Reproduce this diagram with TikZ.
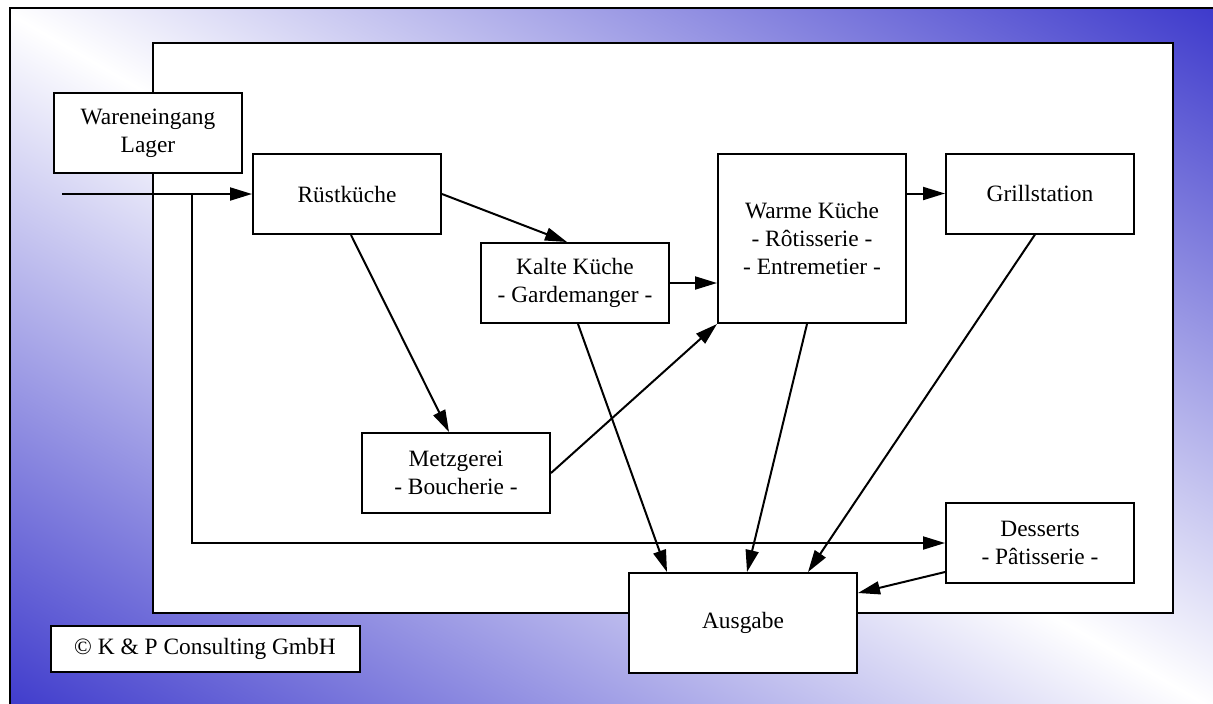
\documentclass[tikz,border=0pt]{standalone}
\usepackage{fontspec}
\setmainfont{Liberation Serif}
\usetikzlibrary{arrows.meta,shadings}

\definecolor{kpblue}{RGB}{48,44,200}
\pgfdeclareverticalshading{kpfade}{100bp}{color(0bp)=(kpblue); color(14bp)=(kpblue);
  color(50bp)=(white); color(86bp)=(kpblue); color(100bp)=(kpblue)}

\tikzset{stn/.style={draw=black, fill=white, line width=1pt, minimum width=94pt,
                     minimum height=40pt, align=center, inner sep=0pt,
                     font=\fontsize{11.7}{14}\selectfont}}

\begin{document}
\begin{tikzpicture}[x=0.5pt, y=-0.5pt, line width=1pt, >={Triangle[length=11pt,width=6.5pt]}]
\useasboundingbox (0,0) rectangle (1213,703);
\clip (0,0) rectangle (1213,703);

% background
\shade[shading=kpfade, shading angle=-30] (10,8) rectangle (1240,730);
\draw (10,8) rectangle (1240,730);
\draw[fill=white] (153,43) rectangle (1173,613);

% stations
\node[stn] (lager) at (148,133) {Wareneingang\\Lager};
\node[stn] (rust) at (347,194) {Rüstküche};
\node[stn] (kalte) at (575,283) {Kalte Küche\\- Gardemanger -};
\node[stn, minimum height=84.5pt] (warm) at (812,238.5) {Warme Küche\\- Rôtisserie -\\- Entremetier -};
\node[stn] (grill) at (1040,193.5) {Grillstation};
\node[stn] (metz) at (456,473) {Metzgerei\\- Boucherie -};
\node[stn] (dessert) at (1040,543) {Desserts\\- Pâtisserie -};
\node[stn, minimum width=114pt, minimum height=50pt] (aus) at (743,623) {Ausgabe};
\node[stn, minimum width=154.5pt, minimum height=23pt] (copy) at (205,649) {© K \& P Consulting GmbH};

\coordinate (in) at (62,194);
\coordinate (split) at (192,194);

% flows
\draw[->] (in) -- (rust.west);
\draw[->] (split) |- (dessert.west);
\draw[->] (rust.east) -- ([xshift=-4pt]kalte.north);
\draw[->] ([xshift=2pt]rust.south) -- ([xshift=-3.5pt]metz.north);
\draw[->] (kalte.east) -- (kalte.east -| warm.west);
\draw[->] (metz.east) -- (warm.south west);
\draw[->] (warm.east |- grill.west) -- (grill.west);
\draw[->] ([xshift=1.5pt]kalte.south) -- ([xshift=-38pt]aus.north);
\draw[->] ([xshift=-2.5pt]warm.south) -- ([xshift=2pt]aus.north);
\draw[->] ([xshift=-2.5pt]grill.south) -- ([xshift=32.5pt]aus.north);
\draw[->] ([yshift=-14.5pt]dessert.west) -- ([yshift=15pt]aus.east);
\end{tikzpicture}
\end{document}
